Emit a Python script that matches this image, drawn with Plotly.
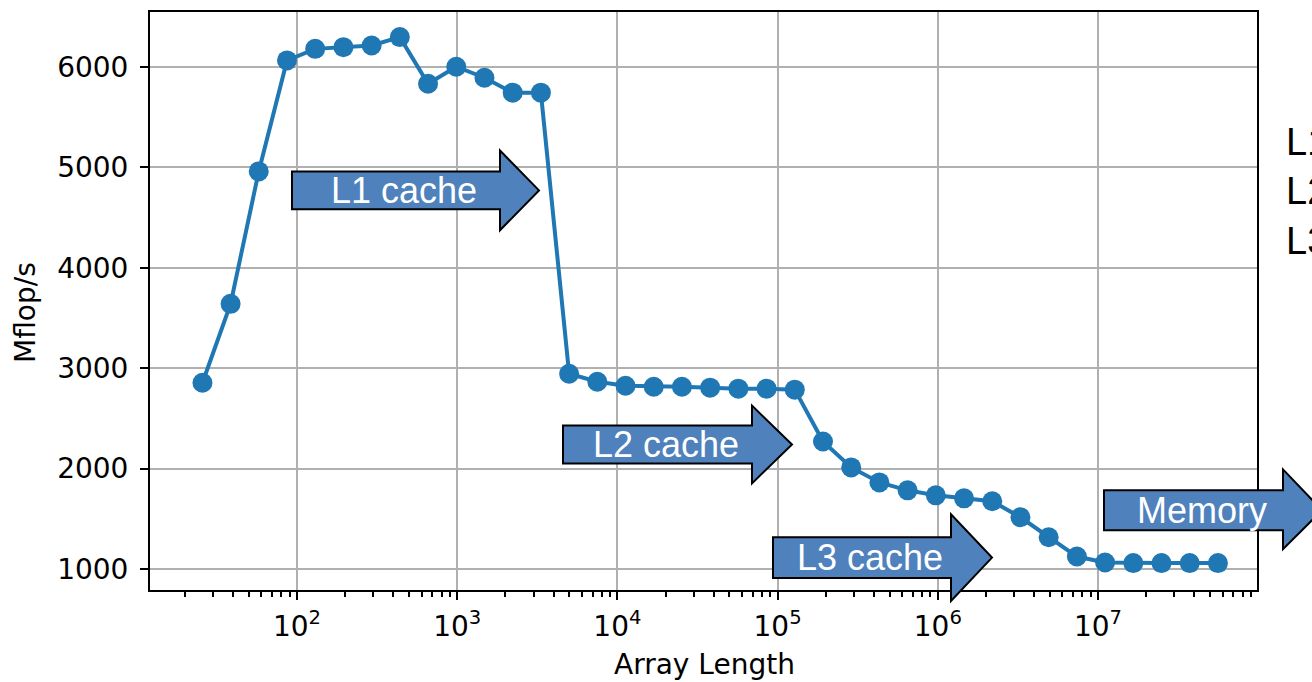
import plotly.graph_objects as go

# ---------------- data ----------------
array_length = [25.7, 38.5, 57.7, 86.6, 129.9, 194.9, 292.3, 438.5, 657.7,
                986.6, 1480, 2220, 3330, 4995, 7492, 11238, 16857, 25285,
                37928, 56892, 85338, 128007, 192011, 288016, 432024, 648036,
                972054, 1458081, 2187122, 3280683, 4921024, 7381536, 11072304,
                16608456, 24912684, 37369026, 56053539]
mflops = [2855, 3640, 4958, 6063, 6178, 6195, 6212, 6295, 5831, 6000, 5891,
          5742, 5742, 2944, 2865, 2825, 2815, 2815, 2806, 2796, 2796, 2786,
          2270, 2012, 1863, 1784, 1734, 1704, 1675, 1516, 1317, 1125, 1066,
          1060, 1060, 1060, 1060]
x_tickvals = [1e2, 1e3, 1e4, 1e5, 1e6, 1e7]
x_ticktext = ["10<sup>2</sup>", "10<sup>3</sup>", "10<sup>4</sup>",
              "10<sup>5</sup>", "10<sup>6</sup>", "10<sup>7</sup>"]
y_tickvals = [1000, 2000, 3000, 4000, 5000, 6000]
arrow_labels = ["L1 cache", "L2 cache", "L3 cache", "Memory"]
side_labels = ["L1 cache: 32 KB", "L2 cache: 256 KB", "L3 cache: 8 MB"]

# ---------------- layout geometry (pixels) ----------------
W, H = 1312, 682
L, R, T, B = 150, 1257, 10, 590
PW, PH = R - L, B - T


def px(x):
    return (x - L) / PW


def py(y):
    return (B - y) / PH


minor_vals = [m * 10 ** e for e in range(1, 8) for m in range(2, 10)]

fig = go.Figure()
fig.add_trace(go.Scatter(
    x=array_length, y=mflops, mode="lines+markers",
    line=dict(color="#1f77b4", width=4),
    marker=dict(color="#1f77b4", size=20),
    showlegend=False, cliponaxis=False,
))

axis_font = dict(family="DejaVu Sans", size=28, color="black")

fig.update_layout(
    width=W, height=H,
    margin=dict(l=L, r=W - R, t=T, b=H - B, pad=0),
    paper_bgcolor="white", plot_bgcolor="white",
    xaxis=dict(
        type="log", range=[1.0824, 7.9925],
        tickmode="array", tickvals=x_tickvals, ticktext=x_ticktext,
        ticks="outside", ticklen=8, tickwidth=2, tickcolor="black",
        showline=True, linecolor="black", linewidth=2, mirror=True,
        showgrid=True, gridcolor="#b0b0b0", gridwidth=2,
        zeroline=False, tickfont=axis_font, ticklabelstandoff=2,
        minor=dict(tickmode="array", tickvals=minor_vals, ticks="outside",
                   ticklen=5, tickwidth=1.5, tickcolor="black", showgrid=False),
    ),
    yaxis=dict(
        range=[792, 6545],
        tickmode="array", tickvals=y_tickvals,
        ticks="outside", ticklen=8, tickwidth=2, tickcolor="black",
        showline=True, linecolor="black", linewidth=2, mirror=True,
        showgrid=True, gridcolor="#b0b0b0", gridwidth=2,
        zeroline=False, tickfont=axis_font, ticklabelstandoff=6,
    ),
)

# axis titles as annotations for exact placement
fig.add_annotation(text="Array Length", xref="paper", yref="paper",
                   x=px(704), y=py(665), showarrow=False,
                   font=axis_font, xanchor="center", yanchor="middle")
fig.add_annotation(text="Mflop/s", xref="paper", yref="paper",
                   x=px(26), y=py(312), showarrow=False, textangle=-90,
                   font=axis_font, xanchor="center", yanchor="middle")

# block arrows: (body left, body top, body bottom, head start, head top, head bottom, tip x)
arrows = [
    (292, 170, 208, 500, 149, 229, 539),
    (563, 425, 463, 752, 405, 483, 792),
    (773, 537, 578, 951, 514, 601, 992),
    (1104, 490, 530, 1283, 469, 549, 1322),
]
for (bl, bt, bb, hx, ht, hb, tip), label in zip(arrows, arrow_labels):
    mid = (bt + bb) / 2
    pts = [(bl, bt), (hx, bt), (hx, ht), (tip, mid), (hx, hb), (hx, bb), (bl, bb)]
    path = "M " + " L ".join(f"{px(a):.5f},{py(b):.5f}" for a, b in pts) + " Z"
    fig.add_shape(type="path", path=path, xref="paper", yref="paper",
                  fillcolor="#4f81bd", line=dict(color="black", width=2),
                  layer="above")
    fig.add_annotation(text=label, xref="paper", yref="paper",
                       x=px((bl + hx) / 2 + 8), y=py(mid), showarrow=False,
                       font=dict(family="Liberation Sans", size=36, color="white"),
                       xanchor="center", yanchor="middle")

for i, label in enumerate(side_labels):
    fig.add_annotation(text=label, xref="paper", yref="paper",
                       x=px(1284), y=py(140 + 50 * i), showarrow=False,
                       font=dict(family="Liberation Sans", size=38, color="black"),
                       xanchor="left", yanchor="middle")

fig.write_html("out.html")
